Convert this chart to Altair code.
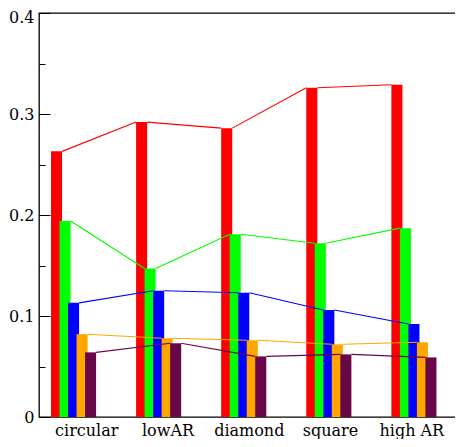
import altair as alt
import pandas as pd

# ---- data ----
categories = ["circular", "lowAR", "diamond", "square", "high AR"]
series_names = ["s1", "s2", "s3", "s4", "s5"]
series_colors = ["#ff0000", "#00ff00", "#0000ff", "#ffa500", "#670748"]
red = [0.263, 0.292, 0.286, 0.326, 0.329]
green = [0.194, 0.147, 0.181, 0.172, 0.187]
blue = [0.113, 0.125, 0.123, 0.106, 0.092]
orange = [0.082, 0.078, 0.076, 0.072, 0.074]
maroon = [0.064, 0.073, 0.060, 0.062, 0.059]
y_major = [0, 0.1, 0.2, 0.3, 0.4]
y_ticks = [0, 0.05, 0.1, 0.15, 0.2, 0.25, 0.3, 0.35, 0.4]

# ---- layout constants (category units) ----
SERIES_STEP = 0.1
BAR_W = 0.13
LABEL_OFF = 0.42
LABEL_STEP = 0.955
X_DOMAIN = [-0.141, 4.877]
W, H = 427, 404
FONT = "DejaVu Serif"
FS = 16

all_series = [red, green, blue, orange, maroon]

bar_rows = []
seg_rows = []
for j, (name, vals) in enumerate(zip(series_names, all_series)):
    for i, v in enumerate(vals):
        left = i + j * SERIES_STEP
        bar_rows.append({"series": name, "cat": categories[i], "value": v,
                         "x0": left, "x1": left + BAR_W})
        if i + 1 < len(vals):
            seg_rows.append({"series": name, "xa": left + BAR_W, "ya": v,
                             "xb": (i + 1) + j * SERIES_STEP, "yb": vals[i + 1]})
bars_df = pd.DataFrame(bar_rows)
segs_df = pd.DataFrame(seg_rows)
labels_df = pd.DataFrame({"cat": categories,
                          "lx": [LABEL_OFF + LABEL_STEP * i for i in range(len(categories))]})

xscale = alt.Scale(domain=X_DOMAIN, nice=False, zero=False)
yscale = alt.Scale(domain=[0, 0.4], nice=False)
color = alt.Color("series:N", scale=alt.Scale(domain=series_names, range=series_colors), legend=None)
tick_size = {"condition": {"test": "round(datum.value*100) % 10 == 0", "value": 11}, "value": 6}
label_off = {"condition": {"test": "datum.value >= 0.39", "value": 4}, "value": 0}

bars = alt.Chart(bars_df).mark_rect().encode(
    x=alt.X("x0:Q", scale=xscale, axis=None),
    x2="x1:Q",
    y=alt.Y("value:Q", scale=yscale,
            axis=alt.Axis(orient="left", values=y_major, format="~g", title=None,
                          ticks=False, tickSize=0, domain=False, grid=False,
                          labelFont=FONT, labelFontSize=FS, labelColor="black",
                          labelPadding=5, labelOffset=label_off)),
    y2=alt.datum(0),
    color=color,
)

segs = alt.Chart(segs_df).mark_rule(strokeWidth=1.1).encode(
    x=alt.X("xa:Q", scale=xscale, axis=None),
    x2="xb:Q",
    y=alt.Y("ya:Q", scale=yscale,
            axis=alt.Axis(orient="right", offset=-W, values=y_ticks, labels=False,
                          title=None, domain=False, grid=False, tickColor="black",
                          tickWidth=1, tickSize=tick_size)),
    y2="yb:Q",
    color=color,
)

ghost = alt.Chart(bars_df).mark_point(opacity=0).encode(
    x=alt.X("x0:Q", scale=xscale, axis=None),
    y=alt.Y("value:Q", scale=yscale,
            axis=alt.Axis(orient="left", offset=-W, values=y_ticks, labels=False,
                          title=None, domain=False, grid=False, tickColor="black",
                          tickWidth=1, tickSize=tick_size)),
)

cat_labels = alt.Chart(labels_df).mark_text(
    font=FONT, fontSize=FS, color="black", baseline="alphabetic", align="center"
).encode(
    x=alt.X("lx:Q", scale=xscale, axis=None),
    y=alt.value(H + 19),
    text="cat:N",
)

chart = alt.layer(bars, segs, ghost, cat_labels).resolve_axis(y="independent").properties(
    width=W, height=H,
    autosize=alt.AutoSizeParams(type="none"),
    padding={"left": 31, "top": 5, "right": -11, "bottom": 22},
).configure_view(stroke="black", strokeWidth=1.3)

chart.save("out.html", embed_options={"renderer": "svg", "actions": False})
